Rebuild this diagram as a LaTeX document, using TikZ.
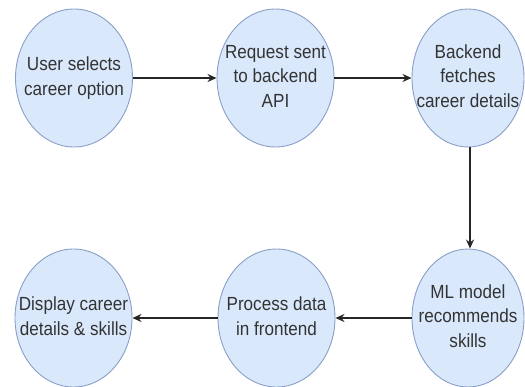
\documentclass[tikz,border=0pt]{standalone}
\usepackage{fontspec}
\setmainfont[FakeStretch=0.9]{Liberation Sans}
\usetikzlibrary{arrows.meta,shapes.geometric}
\definecolor{nodefill}{HTML}{DAE8FC}
\definecolor{nodeline}{HTML}{8A9FC6}
\definecolor{txt}{HTML}{333333}
\newcommand{\ctext}[1]{\makebox[0pt]{\begin{tabular}{@{}c@{}}#1\end{tabular}}}
\tikzset{
  stepnode/.style={ellipse, draw=nodeline, fill=nodefill, line width=0.9pt,
    minimum width=117pt, minimum height=138pt, inner sep=0pt,
    text=txt, font=\fontsize{19}{24.5}\selectfont},
  flow/.style={-{Stealth[length=9pt,width=8pt]}, line width=1.5pt, draw=black!85}
}
\begin{document}
\begin{tikzpicture}[x=1pt,y=-1pt]
\useasboundingbox (0,0) rectangle (525,386);
\node[stepnode] (a) at (74,78) {\ctext{User selects\\career option}};
\node[stepnode] (b) at (275.5,78) {\ctext{Request sent\\to backend\\API}};
\node[stepnode, minimum width=112pt] (c) at (468,78) {\ctext{Backend\\fetches\\career details}};
\node[stepnode, minimum width=112pt] (d) at (468,318) {\ctext{ML model\\recommends\\skills}};
\node[stepnode] (e) at (276.5,318) {\ctext{Process data\\in frontend}};
\node[stepnode] (f) at (73.5,318) {\ctext{Display career\\details \& skills}};
\draw[flow] (a) -- (b);
\draw[flow] (b) -- (c);
\draw[flow] ([xshift=2pt]c.south) -- ([xshift=2pt]d.north);
\draw[flow] (d) -- (e);
\draw[flow] (e) -- (f);
\end{tikzpicture}
\end{document}
